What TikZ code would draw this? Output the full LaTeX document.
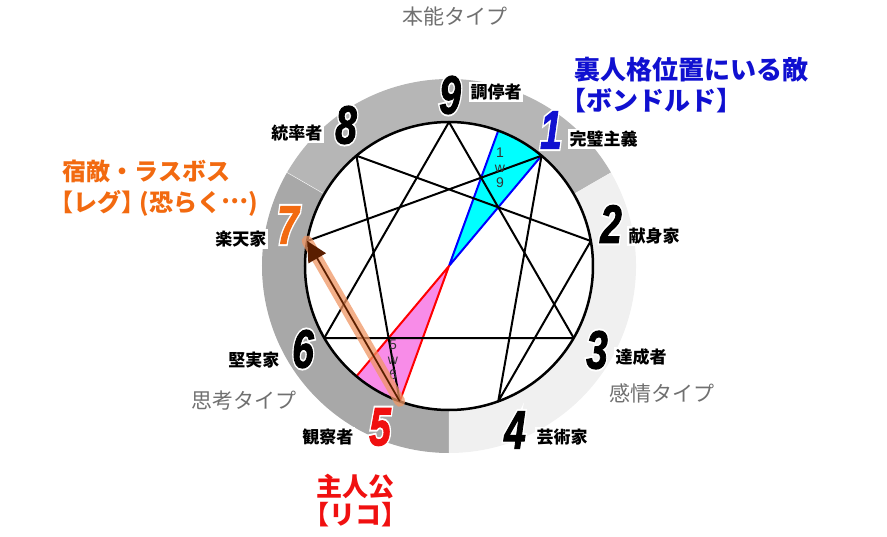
\documentclass[tikz,border=0pt]{standalone}
\usepackage{fontspec}
\usetikzlibrary{positioning, arrows.meta, calc}
\setmainfont{Liberation Sans}
\newfontfamily\jp{Noto Sans CJK JP}
\newfontfamily\numfont{Liberation Sans Bold Italic}[FakeBold=2]
\newfontfamily\halofont{Liberation Sans Bold Italic}[FakeBold=9]
\definecolor{myblue}{RGB}{16,16,208}
\definecolor{myorange}{RGB}{242,106,16}
\definecolor{myred}{RGB}{240,16,16}
\definecolor{mygray}{RGB}{112,112,112}
\definecolor{ringtop}{RGB}{182,182,182}
\definecolor{ringleft}{RGB}{168,168,168}
\definecolor{ringright}{RGB}{240,240,240}
\definecolor{wingcyan}{RGB}{0,255,255}
\definecolor{wingpink}{RGB}{248,140,232}
\definecolor{bandorange}{RGB}{240,150,100}
\definecolor{tipbrown}{RGB}{90,30,0}
\newcommand{\bignum}[1]{\scalebox{0.72}[1]{#1}}

\begin{document}
\begin{tikzpicture}
[x=1pt, y=1pt,
 num/.style={inner sep=0pt, font=\fontsize{54}{54}\selectfont\numfont},
 halo/.style={inner sep=0pt, text=white, font=\fontsize{54}{54}\selectfont\halofont},
 role/.style={fill=white, inner sep=1.5pt, font=\fontsize{17}{17}\selectfont\jp\bfseries},
 kind/.style={text=mygray, font=\fontsize{21}{21}\selectfont\jp},
 wing/.style={inner sep=0pt, text=black!80, font=\fontsize{14}{15}\selectfont},
 call/.style={anchor=west, font=\fontsize{26}{26}\selectfont\jp\bfseries},
 ln/.style={line width=2pt, line join=round},
 every text node part/.style={align=center}]

\useasboundingbox (-449,-270) rectangle (438,266);

% ring of the three centres
\fill[ringtop] (30:144) arc[start angle=30, end angle=150, radius=144]
  -- (150:187) arc[start angle=150, end angle=30, radius=187] -- cycle;
\fill[ringleft] (150:144) arc[start angle=150, end angle=270, radius=144]
  -- (270:187) arc[start angle=270, end angle=150, radius=187] -- cycle;
\fill[ringright] (-90:144) arc[start angle=-90, end angle=30, radius=144]
  -- (30:187) arc[start angle=30, end angle=-90, radius=187] -- cycle;
\draw[white, thin] (150:144) -- (150:187);
\fill[white] (0,0) circle[radius=144];

% points on the circle
\coordinate (O) at (0,0);
\coordinate (P1) at (50:144);
\coordinate (P2) at (10:144);
\coordinate (P3) at (-30:144);
\coordinate (P4) at (-70:144);
\coordinate (P5) at (-110:144);
\coordinate (P6) at (-150:144);
\coordinate (P7) at (170:144);
\coordinate (P8) at (130:144);
\coordinate (P9) at (90:144);
\coordinate (W1) at (70:144);
\coordinate (W5) at (-130:144);

% wings
\fill[wingcyan] (O) -- (P1) arc[start angle=50, end angle=70, radius=144] -- cycle;
\fill[wingpink] (O) -- (P5) arc[start angle=-110, end angle=-130, radius=144] -- cycle;
\draw[ln, blue] (W1) -- (O) -- (P1);
\draw[ln, red] (W5) -- (O) -- (P5);

% enneagram lines
\draw[ln] (P9) -- (P3) -- (P6) -- cycle;
\draw[ln] (P1) -- (P4) -- (P2) -- (P8) -- (P5) -- (P7) -- cycle;
\draw[line width=2.5pt] (O) circle[radius=144];

\node[wing] (wing1) at (51,98) {1\\w\\9};
\node[wing] (wing5) at (-56,-94) {5\\w\\6};

% 5 -> 7
\draw[line width=11pt, bandorange, opacity=0.75, line cap=round] (P5) -- (P7);
\draw[tipbrown, line width=1.5pt, -{Triangle[length=20pt, width=20pt]}] (P5) -- (P7);

% numbers, white outline first
\node[halo] (h9) at (1,171) {\bignum{9}};
\node[halo] (h8) at (-103,141) {\bignum{8}};
\node[halo] (h1) at (102,136) {\bignum{1}};
\node[halo] (h2) at (162,42) {\bignum{2}};
\node[halo] (h3) at (148,-84) {\bignum{3}};
\node[halo] (h4) at (66,-164) {\bignum{4}};
\node[halo] (h5) at (-69,-161) {\bignum{5}};
\node[halo] (h6) at (-146,-83) {\bignum{6}};
\node[halo] (h7) at (-161,41) {\bignum{7}};
\node[num] (n9) at (1,171) {\bignum{9}};
\node[num] (n8) at (-103,141) {\bignum{8}};
\node[num, text=myblue] (n1) at (102,136) {\bignum{1}};
\node[num] (n2) at (162,42) {\bignum{2}};
\node[num] (n3) at (148,-84) {\bignum{3}};
\node[num] (n4) at (66,-164) {\bignum{4}};
\node[num, text=myred] (n5) at (-69,-161) {\bignum{5}};
\node[num] (n6) at (-146,-83) {\bignum{6}};
\node[num, text=myorange] (n7) at (-161,41) {\bignum{7}};

% roles
\node[role, anchor=west] (r9) at (20,174) {調停者};
\node[role, anchor=east] (r8) at (-125,133) {統率者};
\node[role, anchor=west] (r1) at (119,127) {完璧主義};
\node[role, anchor=west] (r2) at (178,30) {献身家};
\node[role, anchor=west] (r3) at (165,-91) {達成者};
\node[role, anchor=west] (r4) at (86,-171) {芸術家};
\node[role, anchor=east] (r5) at (-94,-171) {観察者};
\node[role, anchor=east] (r6) at (-168,-94) {堅実家};
\node[role, anchor=east] (r7) at (-181,27) {楽天家};

% centres
\node[kind] (instinct) at (6,249) {本能タイプ};
\node[kind] (thinking) at (-205,-135) {思考タイプ};
\node[kind] (feeling) at (213,-127) {感情タイプ};

% callouts
\node[call, text=myblue] (enemy) at (122,196) {裏人格位置にいる敵};
\node[call, text=myblue] (enemyname) at (108,165) {【ボンドルド】};
\node[call, text=myorange, font=\fontsize{24}{24}\selectfont\jp\bfseries] (rival) at (-390,95) {宿敵・ラスボス};
\node[call, text=myorange, font=\fontsize{24}{24}\selectfont\jp\bfseries] (rivalname) at (-403,63)
  {【レグ】\kern-0.25em(恐らく\raisebox{0.3em}{…})};
\node[text=myred, font=\fontsize{26}{26}\selectfont\jp\bfseries] (hero) at (-93,-221) {主人公};
\node[text=myred, font=\fontsize{26}{26}\selectfont\jp\bfseries] (heroname) at (-93,-249) {【リコ】};

\end{tikzpicture}
\end{document}
